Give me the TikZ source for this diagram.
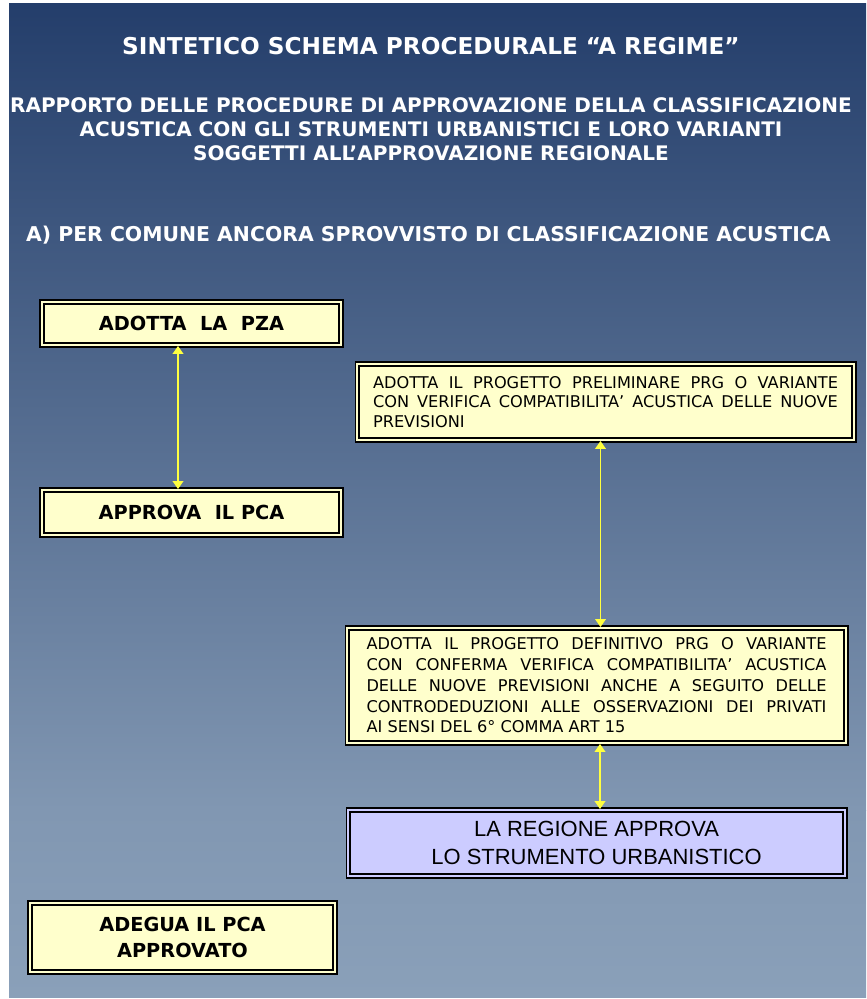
\documentclass[tikz,border=0pt]{standalone}
\usepackage{fontspec}
\setmainfont{DejaVu Sans}
\newfontfamily\thinfont{Liberation Sans}
\usetikzlibrary{arrows.meta}
\definecolor{bgtop}{HTML}{243E6B}
\definecolor{bgmid}{HTML}{8197B2}
\definecolor{bgbot}{HTML}{8AA0B9}
\definecolor{boxyellow}{HTML}{FFFFCC}
\definecolor{boxlilac}{HTML}{CCCCFF}
\definecolor{arrowyellow}{HTML}{FFFF40}
\tikzset{
	fasebox/.style={draw=black, line width=1.1pt, double=#1, double distance=0.7pt, fill=#1, inner sep=0pt},
	fasebox/.default=boxyellow,
	heading/.style={text=white, font=\bfseries},
	link/.style={arrowyellow, line width=1pt, {Triangle[length=4.5pt,width=6pt]}-{Triangle[length=4.5pt,width=6pt]}}
}
\begin{document}
\begin{tikzpicture}[x=0.02cm, y=-0.02cm]
		\useasboundingbox (0,0) rectangle (866,999);
		\fill[white] (0,0) rectangle (866,999);
		\shade[top color=bgtop, bottom color=bgmid] (9,4) rectangle (866,810);
		\shade[top color=bgmid, bottom color=bgbot] (9,810) rectangle (866,997);
		% titoli
		\node[heading, font=\fontsize{13.2pt}{15pt}\selectfont\bfseries] (titolo) at (431,46) {SINTETICO SCHEMA PROCEDURALE “A REGIME”};
		\node[heading, align=center, font=\fontsize{11.4pt}{13.6pt}\selectfont\bfseries] (rapporto) at (431,129)
			{RAPPORTO DELLE PROCEDURE DI APPROVAZIONE DELLA CLASSIFICAZIONE\\ACUSTICA CON GLI STRUMENTI URBANISTICI E LORO VARIANTI\\SOGGETTI ALL'APPROVAZIONE REGIONALE};
		\node[heading, anchor=west, font=\fontsize{11.6pt}{13pt}\selectfont\bfseries] (casoa) at (20,235) {A) PER COMUNE ANCORA SPROVVISTO DI CLASSIFICAZIONE ACUSTICA};
		% colonna comune
		\node[fasebox, minimum width=5.98cm, minimum height=0.86cm, font=\fontsize{11pt}{13pt}\selectfont\bfseries] (pza) at (191.5,323.5) {ADOTTA~~LA~~PZA};
		\node[fasebox, minimum width=5.98cm, minimum height=0.9cm, font=\fontsize{11pt}{13pt}\selectfont\bfseries] (pca) at (191.5,512.5) {APPROVA~~IL PCA};
		\node[fasebox, minimum width=6.1cm, minimum height=1.38cm, align=center, font=\fontsize{11pt}{15pt}\selectfont\bfseries] (adegua) at (182.5,937.5) {ADEGUA IL PCA\\APPROVATO};
		% colonna strumento urbanistico
		\node[fasebox, minimum width=9.94cm, minimum height=1.52cm, align=left, font=\fontsize{9.2pt}{11.3pt}\selectfont] (prelim) at (605.5,402)
			{\makebox[9.3cm][s]{ADOTTA IL PROGETTO PRELIMINARE PRG O VARIANTE}\\
			 \makebox[9.3cm][s]{CON VERIFICA COMPATIBILITA' ACUSTICA DELLE NUOVE}\\
			 \makebox[9.3cm][l]{PREVISIONI}};
		\node[fasebox, minimum width=9.98cm, minimum height=2.3cm, align=left, font=\fontsize{9.2pt}{11.8pt}\selectfont] (def) at (596.5,685.5)
			{\makebox[9.2cm][s]{ADOTTA IL PROGETTO DEFINITIVO PRG O VARIANTE}\\
			 \makebox[9.2cm][s]{CON CONFERMA VERIFICA COMPATIBILITA' ACUSTICA}\\
			 \makebox[9.2cm][s]{DELLE NUOVE PREVISIONI ANCHE A SEGUITO DELLE}\\
			 \makebox[9.2cm][s]{CONTRODEDUZIONI ALLE OSSERVAZIONI DEI PRIVATI}\\
			 \makebox[9.2cm][l]{AI SENSI DEL 6° COMMA ART 15}};
		\node[fasebox=boxlilac, minimum width=9.94cm, minimum height=1.32cm, align=center, font=\thinfont\fontsize{12.5pt}{15.5pt}\selectfont] (regione) at (596.5,843)
			{LA REGIONE APPROVA\\LO STRUMENTO URBANISTICO};
		% collegamenti
		\draw[link] ([xshift=-0.27cm]pza.south) -- ([xshift=-0.27cm]pca.north);
		\draw[link] ([xshift=-0.1cm]prelim.south) -- ([xshift=-0.1cm]prelim.south |- def.north);
		\draw[link] ([xshift=0.07cm]def.south) -- ([xshift=0.07cm]def.south |- regione.north);
	\end{tikzpicture}
\end{document}
